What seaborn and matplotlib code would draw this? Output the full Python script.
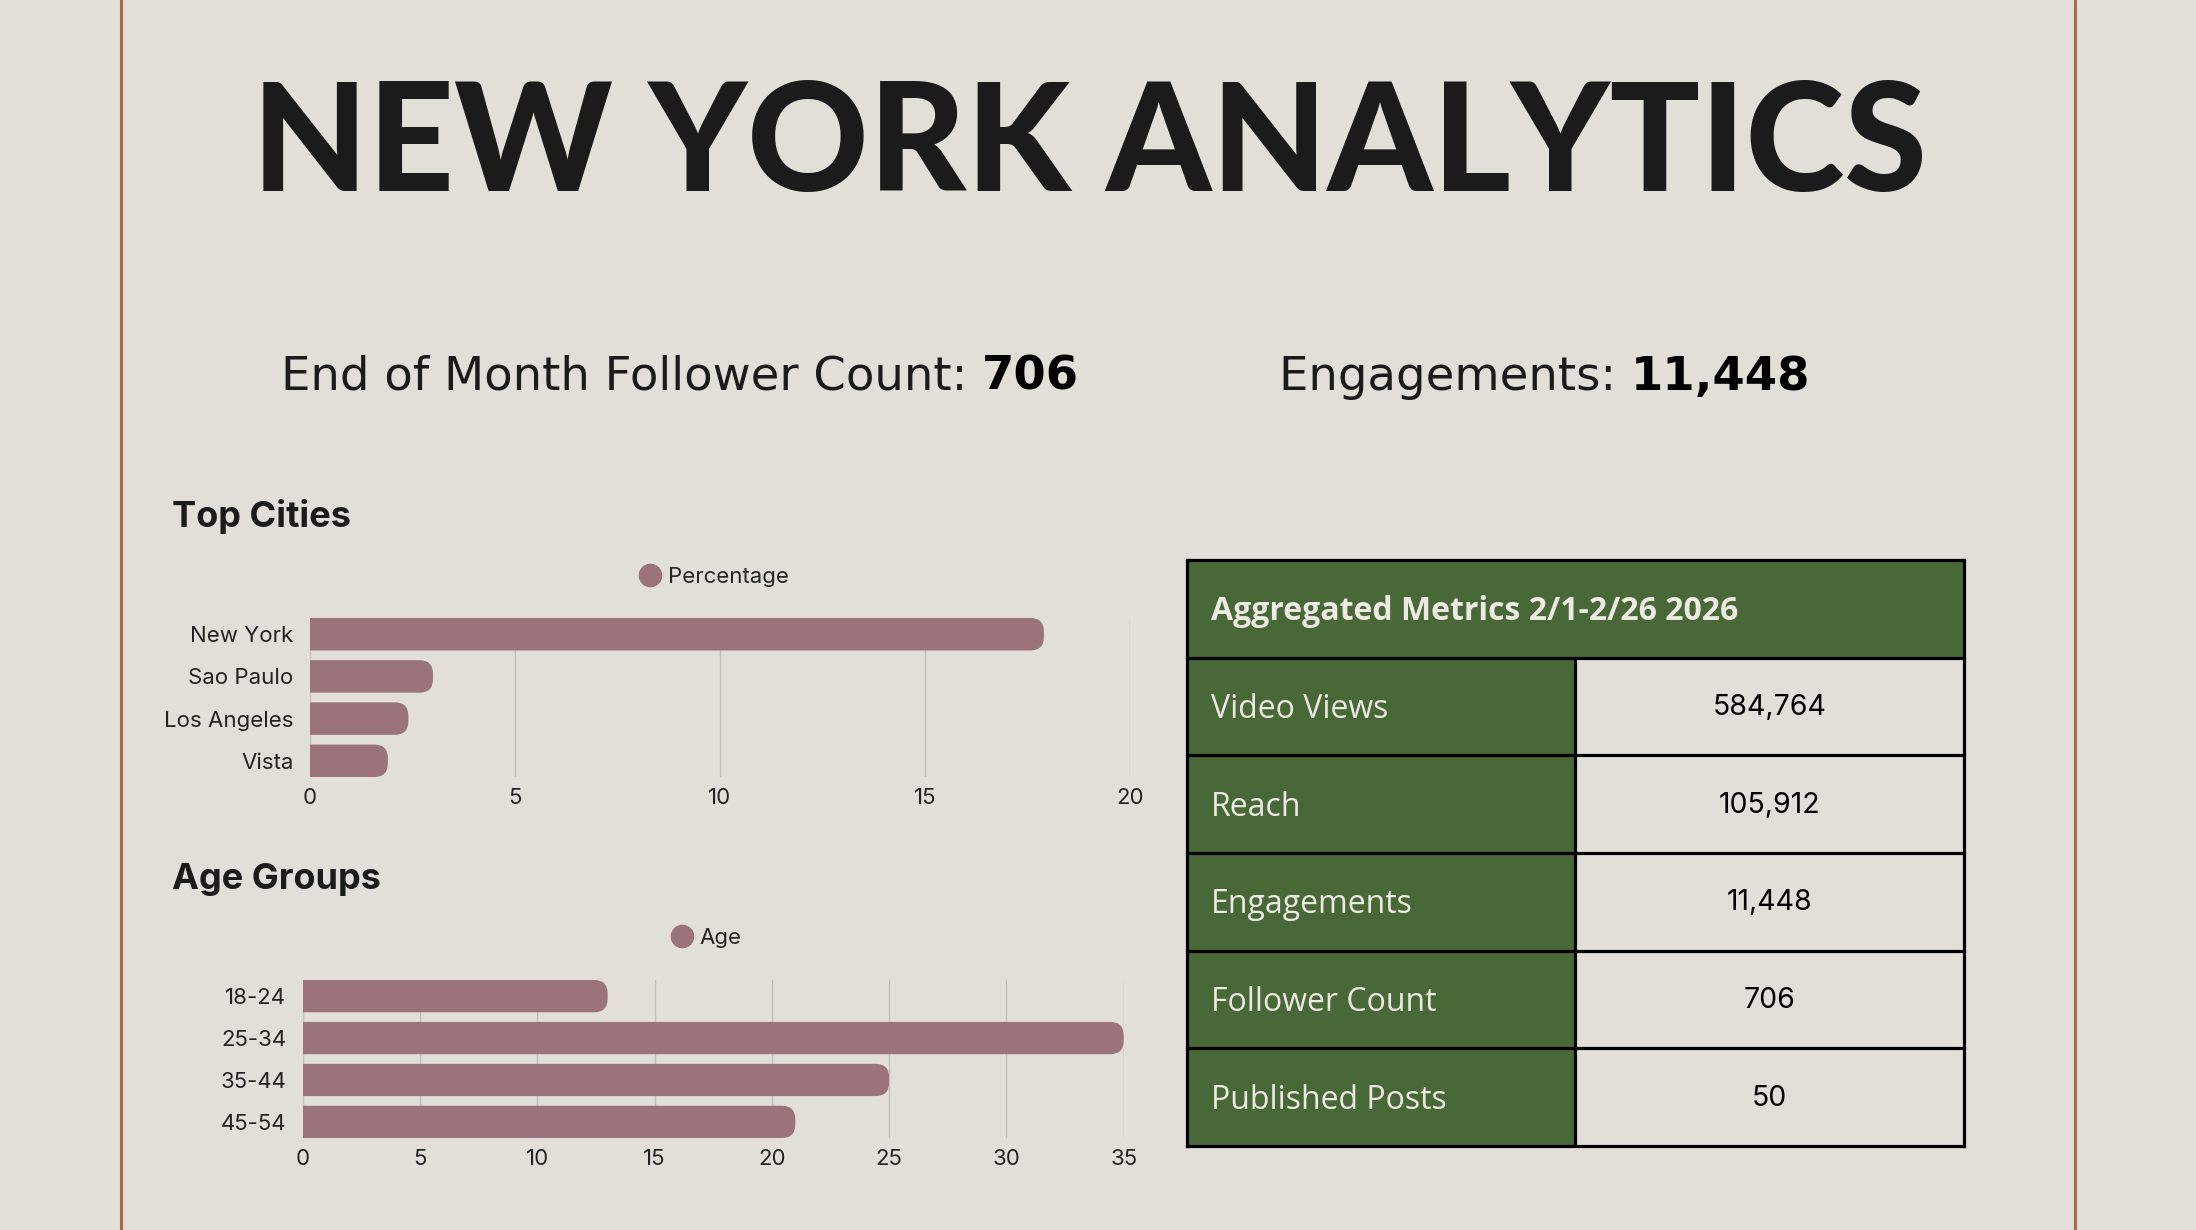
import numpy as np
import pandas as pd
import matplotlib
matplotlib.use("Agg")
import matplotlib.pyplot as plt
import seaborn as sns
from matplotlib.patches import FancyBboxPatch, Rectangle
from matplotlib.lines import Line2D
from matplotlib.transforms import IdentityTransform

# data
cities = ["New York", "Sao Paulo", "Los Angeles", "Vista"]
city_pct = [17.9, 3.0, 2.4, 1.9]
age_groups = ["18-24", "25-34", "35-44", "45-54"]
age_pct = [13, 35, 25, 21]
metric_names = ["Video Views", "Reach", "Engagements", "Follower Count", "Published Posts"]
metric_values = ["584,764", "105,912", "11,448", "706", "50"]
table_title = "Aggregated Metrics 2/1-2/26 2026"
follower_count = "706"
engagements = "11,448"

BG = "#E1DFD8"
BAR = "#9A747A"
GREEN = "#486937"
BORDER = "#A86A4A"
INK = "#1B1B1B"
LIGHT = "#ECEAE3"

sns.set_theme(style="white")
plt.rcParams["font.family"] = ["Inter", "DejaVu Sans"]

W, H = 2196, 1230
fig = plt.figure(figsize=(W / 100, H / 100), dpi=100)
fig.patch.set_facecolor(BG)

# full-figure overlay in pixel units for the free text
ax_bg = fig.add_axes([0, 0, 1, 1])
ax_bg.set_xlim(0, W)
ax_bg.set_ylim(H, 0)
ax_bg.axis("off")

ax_bg.plot([121, 121], [0, H], color=BORDER, lw=2.2)
ax_bg.plot([2075, 2075], [0, H], color=BORDER, lw=2.2)

ax_bg.text(1090, 191, "NEW YORK ANALYTICS", ha="center", va="baseline",
           fontsize=108, fontweight="black", family=["Lato"], color=INK)

sub_font = ["DejaVu Sans"]
t1 = ax_bg.text(281, 390, "End of Month Follower Count: ", va="baseline",
                fontsize=33.5, family=sub_font, color=INK)
ax_bg.annotate(follower_count, xy=(1, 0), xycoords=t1, va="bottom",
               fontsize=33.5, fontweight="bold", family=sub_font, color="black")
t2 = ax_bg.text(1279, 390, "Engagements: ", va="baseline",
                fontsize=33.5, family=sub_font, color=INK)
ax_bg.annotate(engagements, xy=(1, 0), xycoords=t2, va="bottom",
               fontsize=33.5, fontweight="bold", family=sub_font, color="black")

ax_bg.text(172, 527, "Top Cities", va="baseline", fontsize=26, fontweight="bold", color=INK)
ax_bg.text(172, 889, "Age Groups", va="baseline", fontsize=26, fontweight="bold", color=INK)


def round_bars(ax):
    # swap the flat seaborn bars for ones with a rounded right end
    for bar in list(ax.patches):
        (x0, y0), (x1, y1) = ax.transData.transform(
            [(bar.get_x(), bar.get_y()),
             (bar.get_x() + bar.get_width(), bar.get_y() + bar.get_height())])
        ylo, yhi = min(y0, y1), max(y0, y1)
        h = yhi - ylo
        r = 0.42 * h
        p = FancyBboxPatch((x0 - r - 4, ylo), x1 - x0 + r + 4, h,
                           boxstyle=f"round,pad=0,rounding_size={r}",
                           transform=IdentityTransform(), fc=BAR, ec="none")
        ax.add_patch(p)
        bar.set_visible(False)


def bar_panel(rect, labels, values, xmax, step, legend_label, legend_xy):
    ax = fig.add_axes(rect)
    df = pd.DataFrame({"label": labels, "value": values})
    sns.barplot(data=df, x="value", y="label", color=BAR, width=0.77,
                saturation=1, ax=ax)
    ax.set_xlim(0, xmax)
    ax.set_ylim(len(labels) - 1 + 0.385, -0.385)
    ax.set_xticks(np.arange(0, xmax + 1, step))
    ax.set_facecolor("none")
    ax.grid(axis="x", color="#BFBFBF", lw=1)
    ax.set_axisbelow(True)
    sns.despine(ax=ax, left=True, bottom=True)
    ax.set_xlabel("")
    ax.set_ylabel("")
    ax.tick_params(axis="both", length=0, labelsize=16, colors="#222222")
    ax.tick_params(axis="y", pad=12)
    ax.tick_params(axis="x", pad=8)
    round_bars(ax)
    handle = Line2D([], [], marker="o", ls="", color=BAR, markersize=16, label=legend_label)
    ax.legend(handles=[handle], loc="center", bbox_to_anchor=legend_xy,
              bbox_transform=fig.transFigure, frameon=False, fontsize=16,
              handletextpad=0.3, handlelength=1.0)
    return ax


bar_panel([310 / W, 1 - 777 / H, 820 / W, 159 / H], cities, city_pct, 20, 5,
          "Percentage", (714 / W, 1 - 577 / H))
bar_panel([302.7 / W, 1 - 1138 / H, 821 / W, 158 / H], age_groups, age_pct, 35, 5,
          "Age", (706 / W, 1 - 938 / H))

# metrics table
axt = fig.add_axes([1186.5 / W, 1 - 1146 / H, 777.5 / W, 586 / H])
axt.set_xlim(0, 1)
axt.set_ylim(6, 0)
axt.axis("off")
axt.add_patch(Rectangle((0, 0), 1, 1, fc=GREEN, ec="none"))
axt.text(0.0315, 0.53, table_title, va="center", fontsize=23, fontweight="bold",
         family=["Open Sans"], color=LIGHT)
for i, (name, val) in enumerate(zip(metric_names, metric_values)):
    y = i + 1
    axt.add_patch(Rectangle((0, y), 0.5, 1, fc=GREEN, ec="none"))
    axt.add_patch(Rectangle((0.5, y), 0.5, 1, fc=BG, ec="none"))
    axt.text(0.0315, y + 0.53, name, va="center", fontsize=23,
             family=["Open Sans"], color=LIGHT)
    axt.text(0.75, y + 0.51, val, ha="center", va="center", fontsize=20.5, color="black")
for y in range(7):
    axt.plot([0, 1], [y, y], color="black", lw=2.3, clip_on=False, solid_capstyle="projecting")
axt.plot([0, 0], [0, 6], color="black", lw=2.3, clip_on=False, solid_capstyle="projecting")
axt.plot([1, 1], [0, 6], color="black", lw=2.3, clip_on=False, solid_capstyle="projecting")
axt.plot([0.5, 0.5], [1, 6], color="black", lw=2.3, clip_on=False)

fig.savefig("out.png", dpi=100, facecolor=BG)
